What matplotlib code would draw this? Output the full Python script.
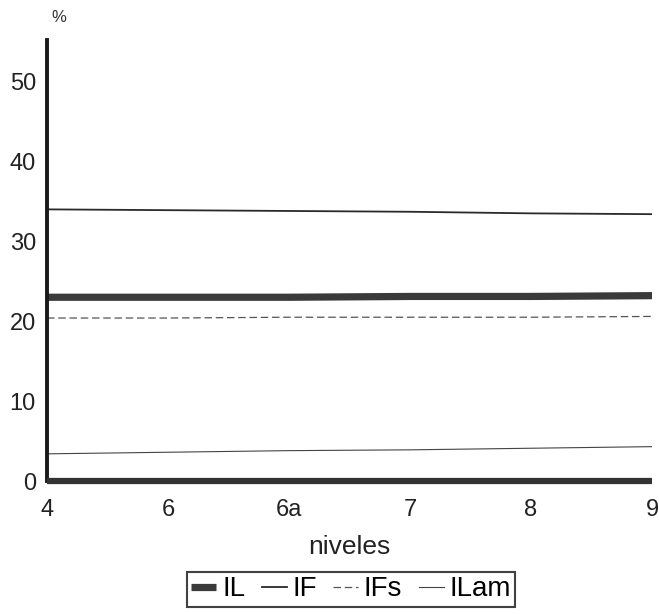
import matplotlib.pyplot as plt

plt.rcParams['font.family'] = ['Liberation Sans', 'DejaVu Sans']

# niveles en el eje x
niveles = ['4', '6', '6a', '7', '8', '9']
# valores en %
IL = [23.0, 23.0, 23.0, 23.1, 23.1, 23.2]
IF = [34.0, 33.9, 33.8, 33.7, 33.5, 33.4]
IFs = [20.4, 20.4, 20.5, 20.5, 20.5, 20.6]
ILam = [3.4, 3.6, 3.8, 3.9, 4.1, 4.3]

fig = plt.figure(figsize=(6.59, 6.14), dpi=100)
ax = fig.add_axes([47 / 659, 133 / 614, 605 / 659, 441 / 614])

x = range(len(niveles))
ax.plot(x, IL, color='#3a3a3a', lw=5.2, solid_capstyle='butt', label='IL')
ax.plot(x, IF, color='#2a2a2a', lw=1.3, label='IF')
ax.plot(x, IFs, color='#555555', lw=0.9, ls=(0, (6, 3)), label='IFs')
ax.plot(x, ILam, color='#444444', lw=0.8, label='ILam')

ax.set_xlim(0, len(niveles) - 1)
ax.set_ylim(0, 55.2)
ax.set_xticks(list(x))
ax.set_xticklabels(niveles)
ax.set_yticks([0, 10, 20, 30, 40, 50])
ax.tick_params(length=0, labelsize=17, colors='#222222')
ax.tick_params(axis='x', pad=13)
ax.tick_params(axis='y', pad=8)

for s in ['top', 'right']:
    ax.spines[s].set_visible(False)
ax.spines['left'].set_linewidth(2.8)
ax.spines['left'].set_color('#1a1a1a')
ax.spines['bottom'].set_linewidth(4.5)
ax.spines['bottom'].set_color('#333333')
ax.spines['bottom'].set_capstyle('butt')

ax.text(0.008, 1.04, '%', transform=ax.transAxes, fontsize=12, color='#333333')
ax.set_xlabel('niveles', fontsize=19, color='#222222', labelpad=10)

leg = fig.legend(loc='upper center', bbox_to_anchor=(0.533, 0.068), ncol=4,
                 fontsize=20, frameon=True, fancybox=False, handlelength=0.9,
                 handletextpad=0.2, columnspacing=0.6, borderpad=0.15,
                 borderaxespad=0)
leg.get_frame().set_edgecolor('#111111')
leg.get_frame().set_linewidth(1.5)

fig.savefig('out.png', dpi=100)
